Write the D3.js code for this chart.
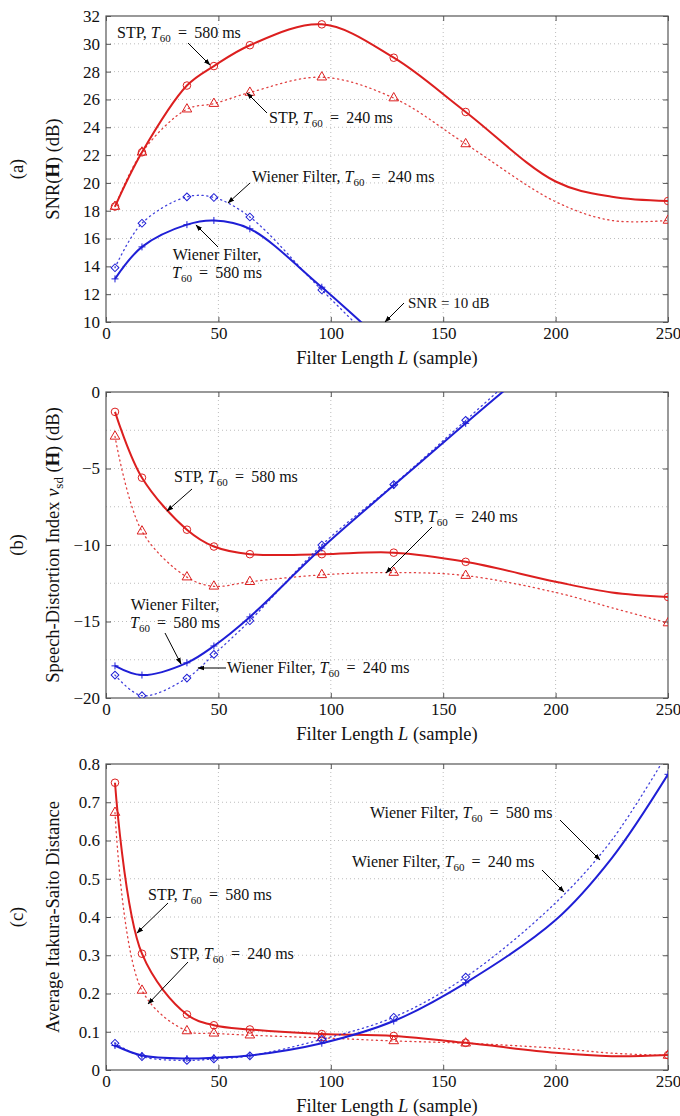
<!DOCTYPE html>
<html>
<head>
<meta charset="utf-8">
<script src="https://cdn.jsdelivr.net/npm/d3@7"></script>
<style>
  body { margin: 0; background: #fff; }
  svg { display: block; font-family: "Liberation Serif", "DejaVu Serif", serif; }
</style>
</head>
<body>
<svg id="chart" width="680" height="1116"></svg>
<script>
// filter lengths with markers
var L = [4, 16, 36, 48, 64, 96, 128, 160, 250];
// extra points (no markers there)
var Lmid = [200, 225];

// (a) SNR(H) in dB
var snrStp580 = [18.3, 22.2, 27.0, 28.4, 29.9, 31.4, 29.0, 25.1, 18.7];
var snrStp240 = [18.3, 22.2, 25.3, 25.7, 26.5, 27.6, 26.1, 22.8, 17.3];
var snrWf580  = [13.1, 15.4, 17.0, 17.3, 16.7, 12.5, 8.0, 4.5, -3];
var snrWf240  = [13.9, 17.1, 19.0, 18.95, 17.55, 12.3, 7.4, 3.8, -4];
var snrStp580Mid = [20.1, 19.0];
var snrStp240Mid = [18.65, 17.3];
var snrWf580Mid  = [0.5, -1.5];
var snrWf240Mid  = [-0.5, -2.5];

// (b) speech-distortion index in dB
var sdStp580 = [-1.3, -5.6, -9.0, -10.1, -10.6, -10.6, -10.5, -11.1, -13.4];
var sdStp240 = [-2.9, -9.1, -12.1, -12.7, -12.4, -11.95, -11.8, -12.0, -15.1];
var sdWf580  = [-17.9, -18.5, -17.7, -16.6, -14.7, -10.2, -6.1, -2.05, 10];
var sdWf240  = [-18.5, -19.85, -18.7, -17.15, -14.95, -10.0, -6.05, -1.85, 11];
var sdStp580Mid = [-12.4, -13.1];
var sdStp240Mid = [-13.1, -14.1];
var sdWf580Mid  = [3.0, 6.5];
var sdWf240Mid  = [3.5, 7.2];

// (c) average Itakura-Saito distance
var isStp580 = [0.751, 0.304, 0.145, 0.117, 0.106, 0.094, 0.089, 0.071, 0.039];
var isStp240 = [0.673, 0.208, 0.102, 0.096, 0.091, 0.084, 0.076, 0.070, 0.038];
var isWf580  = [0.064, 0.038, 0.030, 0.032, 0.038, 0.070, 0.128, 0.228, 0.773];
var isWf240  = [0.070, 0.035, 0.025, 0.029, 0.037, 0.080, 0.138, 0.243, 0.83];
var isStp580Mid = [0.045, 0.036];
var isStp240Mid = [0.057, 0.044];
var isWf580Mid  = [0.392, 0.554];
var isWf240Mid  = [0.437, 0.601];

var xTicks = [0, 50, 100, 150, 200, 250];

var red = "#dc1f1f", blue = "#1f1fd6";

var svg = d3.select("#chart"),
    margin = {left: 106, right: 12},
    width = 680 - margin.left - margin.right,
    ph = 306;

var x = d3.scaleLinear().domain([0, 250]).range([0, width]);

var panels = [
  {
    tag: "(a)", top: 16, domain: [10, 32],
    grid: d3.range(10, 33, 2), labels: d3.range(10, 33, 2), fmt: d => d,
    title: [["SNR("], ["H", "bold"], [") (dB)"]],
    series: [
      {v: snrStp580, mid: snrStp580Mid, c: red, dot: false, m: "circle"},
      {v: snrStp240, mid: snrStp240Mid, c: red, dot: true, m: "triangle"},
      {v: snrWf240, mid: snrWf240Mid, c: blue, dot: true, m: "diamond"},
      {v: snrWf580, mid: snrWf580Mid, c: blue, dot: false, m: "plus"}
    ],
    notes: [
      {t: "STP", x: 11, y: 22, a: [82, 27, 104, 49], v: "580"},
      {t: "STP", x: 163, y: 107, a: [161, 97, 141, 77], v: "240"},
      {t: "Wiener Filter", x: 146, y: 166, a: [144, 167, 122, 187], v: "240"},
      {t: "Wiener Filter", x: 111, y: 244, two: true, a: [112, 231, 90, 209], v: "580"},
      {plain: "SNR = 10 dB", x: 302, y: 292, a: [298, 287, 279, 306]}
    ]
  },
  {
    tag: "(b)", top: 392, domain: [-20, 0],
    grid: d3.range(-20, 0.1, 2.5), labels: [-20, -15, -10, -5, 0], fmt: d => d < 0 ? "\u2212" + (-d) : d,
    title: [["Speech-Distortion Index "], ["v", "italic"], ["sd", "sub"], [" (", "up"], ["H", "bold"], [") (dB)"]],
    series: [
      {v: sdStp580, mid: sdStp580Mid, c: red, dot: false, m: "circle"},
      {v: sdStp240, mid: sdStp240Mid, c: red, dot: true, m: "triangle"},
      {v: sdWf240, mid: sdWf240Mid, c: blue, dot: true, m: "diamond"},
      {v: sdWf580, mid: sdWf580Mid, c: blue, dot: false, m: "plus"}
    ],
    notes: [
      {t: "STP", x: 68, y: 90, a: [86, 97, 61, 119], v: "580"},
      {t: "STP", x: 288, y: 130, a: [326, 135, 280, 181], v: "240"},
      {t: "Wiener Filter", x: 69, y: 218, two: true, a: [59, 241, 75, 272], v: "580"},
      {t: "Wiener Filter", x: 121, y: 281, a: [120, 276, 92, 276], v: "240"}
    ]
  },
  {
    tag: "(c)", top: 764, domain: [0, 0.8],
    grid: d3.range(0, 0.81, 0.1), labels: d3.range(0, 0.81, 0.1), fmt: d => d < 0.001 ? "0" : d3.format(".1f")(d),
    title: [["Average Itakura-Saito Distance"]],
    series: [
      {v: isStp580, mid: isStp580Mid, c: red, dot: false, m: "circle"},
      {v: isStp240, mid: isStp240Mid, c: red, dot: true, m: "triangle"},
      {v: isWf240, mid: isWf240Mid, c: blue, dot: true, m: "diamond"},
      {v: isWf580, mid: isWf580Mid, c: blue, dot: false, m: "plus"}
    ],
    notes: [
      {t: "STP", x: 42, y: 136, a: [62, 139, 31, 169], v: "580"},
      {t: "STP", x: 64, y: 195, a: [82, 198, 42, 240], v: "240"},
      {t: "Wiener Filter", x: 264, y: 54, a: [454, 56, 494, 96], v: "580"},
      {t: "Wiener Filter", x: 246, y: 103, a: [436, 106, 458, 128], v: "240"}
    ]
  }
];

svg.append("defs").append("marker")
    .attr("id", "arrow")
    .attr("viewBox", "0 0 10 10")
    .attr("refX", 9).attr("refY", 5)
    .attr("markerWidth", 7).attr("markerHeight", 7)
    .attr("markerUnits", "userSpaceOnUse")
    .attr("orient", "auto")
  .append("path")
    .attr("d", "M0,1.5L10,5L0,8.5Z")
    .attr("fill", "#000");

// T60 = xxx ms after a label
function t60(text, val) {
  text.append("tspan").attr("font-style", "italic").text("T");
  text.append("tspan").attr("font-size", "11px").attr("dy", 4).text("60");
  text.append("tspan").attr("dy", -4).text("\u2009 = \u2009" + val + " ms");
}

function styleTicks(a) {
  a.select(".domain").remove();
  a.selectAll("line").attr("stroke", "#555");
  a.selectAll("text").attr("font-size", "17px").attr("font-family", "Liberation Serif").attr("fill", "#111");
}

panels.forEach(function(p, i) {
  var g = svg.append("g").attr("transform", `translate(${margin.left},${p.top})`);
  var y = d3.scaleLinear().domain(p.domain).range([ph, 0]);

  g.append("defs").append("clipPath").attr("id", "clip" + i)
    .append("rect").attr("width", width).attr("height", ph);

  // grid
  g.append("g").selectAll("line").data(xTicks.slice(1, -1)).enter().append("line")
    .attr("x1", d => x(d)).attr("x2", d => x(d)).attr("y1", 0).attr("y2", ph)
    .attr("stroke", "#bdbdbd").attr("stroke-dasharray", "1,3");
  g.append("g").selectAll("line").data(p.grid.slice(1, -1)).enter().append("line")
    .attr("y1", d => y(d)).attr("y2", d => y(d)).attr("x1", 0).attr("x2", width)
    .attr("stroke", "#bdbdbd").attr("stroke-dasharray", "1,3");

  // axes with inward ticks on all sides
  var tickLen = 5;
  g.append("g").attr("transform", `translate(0,${ph})`)
    .call(d3.axisBottom(x).tickValues(xTicks).tickSizeInner(-tickLen).tickSizeOuter(0).tickPadding(5))
    .call(styleTicks);
  g.append("g")
    .call(d3.axisTop(x).tickValues(xTicks).tickSizeInner(-tickLen).tickSizeOuter(0).tickFormat(""))
    .call(styleTicks);
  g.append("g")
    .call(d3.axisLeft(y).tickValues(p.labels).tickSizeInner(-tickLen).tickSizeOuter(0).tickPadding(6).tickFormat(p.fmt))
    .call(styleTicks);
  g.append("g").attr("transform", `translate(${width},0)`)
    .call(d3.axisRight(y).tickValues(p.labels).tickSizeInner(-tickLen).tickSizeOuter(0).tickFormat(""))
    .call(styleTicks);
  g.append("rect").attr("width", width).attr("height", ph)
    .attr("fill", "none").attr("stroke", "#555").attr("stroke-width", 1.2);

  // series
  var plot = g.append("g").attr("clip-path", `url(#clip${i})`);
  var line = d3.line().x(d => x(d[0])).y(d => y(d[1])).curve(d3.curveCatmullRom.alpha(0.5));
  p.series.forEach(function(s) {
    var pts = s.v.map((v, j) => [L[j], v]);
    var knots = pts.concat(s.mid.map((v, j) => [Lmid[j], v])).sort((a, b) => a[0] - b[0]);
    plot.append("path").datum(knots)
      .attr("d", line)
      .attr("fill", "none")
      .attr("stroke", s.c)
      .attr("stroke-opacity", s.dot ? 0.85 : 1)
      .attr("stroke-width", s.dot ? 1.3 : 2)
      .attr("stroke-dasharray", s.dot ? "1.2,3.6" : null)
      .attr("stroke-linecap", s.dot ? "round" : "butt");
    var sym = s.m === "circle" ? d3.symbolCircle : s.m === "triangle" ? d3.symbolTriangle : d3.symbolSquare;
    var size = s.m === "circle" ? 45 : s.m === "triangle" ? 40 : 30;
    plot.selectAll(null).data(pts).enter().append("path")
      .attr("transform", d => `translate(${x(d[0])},${y(d[1])})` + (s.m === "diamond" ? " rotate(45)" : ""))
      .attr("d", s.m === "plus" ? "M-3.5,0H3.5M0,-3.5V3.5" : d3.symbol(sym, size)())
      .attr("fill", "none")
      .attr("stroke", s.c)
      .attr("stroke-width", 1);
  });

  // annotations
  p.notes.forEach(function(n) {
    g.append("line")
      .attr("x1", n.a[0]).attr("y1", n.a[1]).attr("x2", n.a[2]).attr("y2", n.a[3])
      .attr("stroke", "#000").attr("stroke-width", 1)
      .attr("marker-end", "url(#arrow)");
    if (n.plain) {
      g.append("text").attr("x", n.x).attr("y", n.y)
        .attr("font-size", "15px").attr("fill", "#111").text(n.plain);
    } else if (n.two) {
      g.append("text").attr("x", n.x).attr("y", n.y).attr("text-anchor", "middle")
        .attr("font-size", "16px").attr("fill", "#111").text(n.t + ",");
      var t2 = g.append("text").attr("x", n.x).attr("y", n.y + 18).attr("text-anchor", "middle")
        .attr("font-size", "16px").attr("fill", "#111");
      t60(t2, n.v);
    } else {
      var t = g.append("text").attr("x", n.x).attr("y", n.y)
        .attr("font-size", "16px").attr("fill", "#111");
      t.append("tspan").text(n.t + ", ");
      t60(t, n.v);
    }
  });

  // x title
  var xt = g.append("text").attr("x", width / 2).attr("y", ph + 42)
    .attr("text-anchor", "middle").attr("font-size", "18.5px").attr("fill", "#111");
  xt.append("tspan").text("Filter Length ");
  xt.append("tspan").attr("font-style", "italic").text("L");
  xt.append("tspan").text(" (sample)");

  // y title
  var yt = g.append("text")
    .attr("transform", `translate(${53 - margin.left},${ph / 2}) rotate(-90)`)
    .attr("text-anchor", "middle").attr("dy", "0.35em")
    .attr("font-size", "18.5px").attr("fill", "#111");
  p.title.forEach(function(part) {
    var ts = yt.append("tspan").text(part[0]);
    if (part[1] === "bold") ts.attr("font-weight", "bold");
    if (part[1] === "italic") ts.attr("font-style", "italic");
    if (part[1] === "sub") ts.attr("font-size", "13px").attr("dy", 4);
    if (part[1] === "up") ts.attr("dy", -4);
  });

  g.append("text")
    .attr("transform", `translate(${17 - margin.left},${ph / 2}) rotate(-90)`)
    .attr("text-anchor", "middle").attr("dy", "0.35em")
    .attr("font-size", "18.5px").attr("fill", "#111").text(p.tag);
});
</script>
</body>
</html>
